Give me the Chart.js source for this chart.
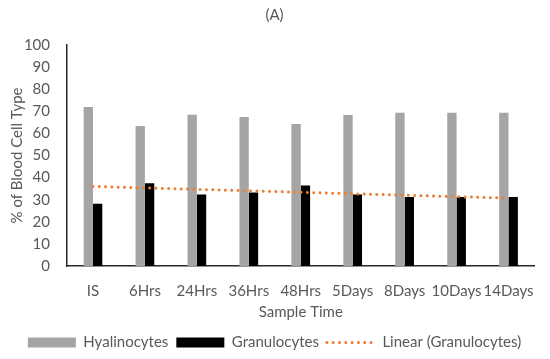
<!DOCTYPE html>
<html>
<head>
<meta charset="utf-8">
<script src="https://cdn.jsdelivr.net/npm/chart.js@4"></script>
<style>
  html, body { margin: 0; padding: 0; background: #fff; }
  #wrap { width: 550px; height: 359px; }
</style>
</head>
<body>
<div id="wrap"><canvas id="chart" width="550" height="359"></canvas></div>
<script>
// Blood cell type percentages over sample time

const sampleTimes = ['IS', '6Hrs', '24Hrs', '36Hrs', '48Hrs', '5Days', '8Days', '10Days', '14Days'];
const hyalinocytes = [72.0, 63.3, 68.4, 67.4, 64.3, 68.3, 69.3, 69.3, 69.3];
const granulocytes = [28.2, 37.4, 32.4, 33.3, 36.4, 32.4, 31.2, 31.2, 31.2];
// trendline as drawn: only its two ends are read, the line spans the gap
const linearGranulocytes = [36.0, null, null, null, null, null, null, null, 30.7];

const TEXT = '#595959';
const FONT = 'Lato';

function legendLabels(chart) {
  const items = Chart.defaults.plugins.legend.labels.generateLabels(chart);
  items.sort((a, b) => a.datasetIndex - b.datasetIndex);
  for (const item of items) {
    const ds = chart.data.datasets[item.datasetIndex];
    if (ds.type === 'line') {
      item.pointStyle = 'line';
      item.strokeStyle = ds.borderColor;
      item.lineWidth = ds.borderWidth;
      item.lineDash = ds.borderDash;
      item.lineCap = 'round';
    } else {
      item.pointStyle = 'rect';
      item.lineWidth = 0;
    }
    item.fontColor = TEXT;
  }
  return items;
}

new Chart(document.getElementById('chart'), {
  data: {
    labels: sampleTimes,
    datasets: [
      {
        type: 'bar',
        label: 'Hyalinocytes',
        data: hyalinocytes,
        backgroundColor: '#A5A5A5',
        barPercentage: 1.0,
        categoryPercentage: 0.36,
        order: 1,
      },
      {
        type: 'bar',
        label: 'Granulocytes',
        data: granulocytes,
        backgroundColor: '#000000',
        barPercentage: 1.0,
        categoryPercentage: 0.36,
        order: 1,
      },
      {
        type: 'line',
        label: 'Linear (Granulocytes)',
        data: linearGranulocytes,
        borderColor: '#ED7D31',
        borderWidth: 3,
        borderDash: [0.01, 6.3],
        borderCapStyle: 'round',
        spanGaps: true,
        pointRadius: 0,
        fill: false,
        order: 0,
      },
    ],
  },
  options: {
    responsive: false,
    animation: false,
    layout: { padding: { left: 8, right: 9, top: 4, bottom: -1 } },
    scales: {
      x: {
        grid: { display: false, drawTicks: false },
        border: { display: true, color: '#262626', width: 1.5 },
        ticks: { color: TEXT, font: { family: FONT, size: 15 }, padding: 16, maxRotation: 0, autoSkip: false },
        title: { display: true, text: 'Sample Time', color: TEXT, font: { family: FONT, size: 15 }, padding: { top: 0, bottom: 6 } },
        afterFit: (scale) => { scale.height = 61; },
      },
      y: {
        min: 0,
        max: 100,
        grid: { display: false, drawTicks: false },
        border: { display: true, color: '#262626', width: 1.5 },
        ticks: { stepSize: 10, color: TEXT, font: { family: FONT, size: 15 }, padding: 17 },
        title: { display: true, text: '% of Blood Cell Type', color: TEXT, font: { family: FONT, size: 15 }, padding: { top: 0, bottom: 2 } },
        afterFit: (scale) => { scale.width = 59; },
      },
    },
    plugins: {
      title: {
        display: true,
        text: '(A)',
        color: TEXT,
        font: { family: FONT, size: 15, weight: 'normal' },
        padding: { top: 2, bottom: 21 },
      },
      legend: {
        position: 'bottom',
        labels: {
          usePointStyle: true,
          pointStyleWidth: 48,
          boxHeight: 10,
          padding: 8,
          color: TEXT,
          font: { family: FONT, size: 15 },
          generateLabels: legendLabels,
        },
      },
      tooltip: { enabled: false },
    },
  },
});
</script>
</body>
</html>
